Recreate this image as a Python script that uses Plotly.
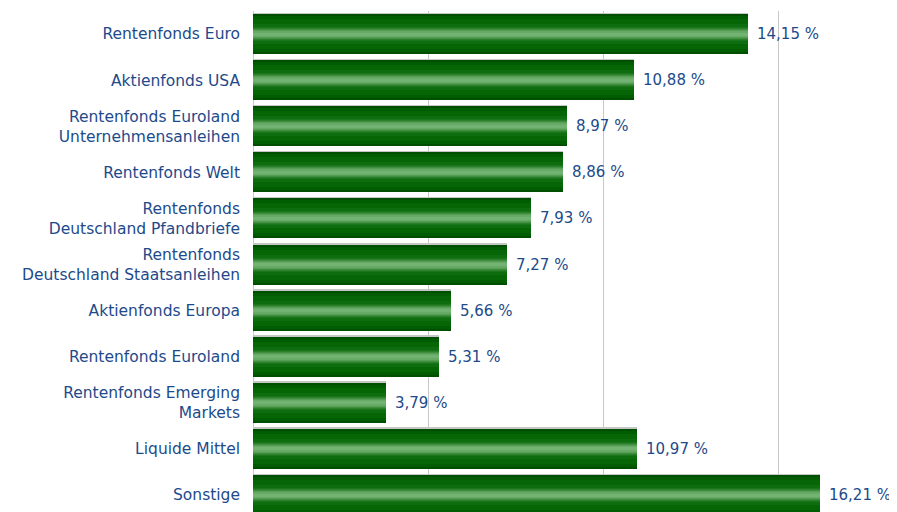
import plotly.graph_objects as go

categories = [
    "Rentenfonds Euro",
    "Aktienfonds USA",
    "Rentenfonds Euroland<br>Unternehmensanleihen",
    "Rentenfonds Welt",
    "Rentenfonds<br>Deutschland Pfandbriefe",
    "Rentenfonds<br>Deutschland Staatsanleihen",
    "Aktienfonds Europa",
    "Rentenfonds Euroland",
    "Rentenfonds Emerging<br>Markets",
    "Liquide Mittel",
    "Sonstige",
]
values = [14.15, 10.88, 8.97, 8.86, 7.93, 7.27, 5.66, 5.31, 3.79, 10.97, 16.21]
labels = [f"{v:.2f}".replace(".", ",") + " %" for v in values]

# page body has an 8px margin, so the figure is placed at (8, 8)
W, H = 889, 504
ML, MT = 245, 3
PX_PER_CAT = 46.1
PX_PER_PCT = 35.0
plot_h = H - MT
plot_w = W - ML
cat_px = 1.0 / PX_PER_CAT
bar_px = 40

TEXT_COLOR = "#1d4a8a"
FONT = "DejaVu Sans"
FSIZE = 15.5

fig = go.Figure()

# thin grey top edge
g = 1.5
fig.add_trace(go.Bar(
    y=categories, x=values, orientation="h",
    width=(bar_px + g) * cat_px, offset=-(bar_px / 2 + g) * cat_px,
    marker=dict(color="#c4c8c4", line=dict(width=0)), hoverinfo="skip", showlegend=False,
))

# cylindrical gradient layers (outer -> inner), full heights in px
layers = [
    (40, "#004e00"),
    (36, "#005c00"),
    (30, "#066606"),
    (20, "#0e6d0e"),
    (14, "#1b761b"),
    (12, "#2b812b"),
    (10, "#3f8f3f"),
    (8, "#559d55"),
    (6, "#66aa66"),
    (3, "#72b272"),
]
for px, col in layers:
    fig.add_trace(go.Bar(
        y=categories, x=values, orientation="h",
        width=px * cat_px,
        marker=dict(color=col, line=dict(width=0)),
        hoverinfo="skip", showlegend=False,
    ))

for c, v, t in zip(categories, values, labels):
    fig.add_annotation(
        x=v, y=c, text=t, showarrow=False, xanchor="left", yanchor="middle",
        xshift=7, font=dict(family=FONT, size=15, color=TEXT_COLOR),
    )

fig.update_layout(
    width=W, height=H,
    margin=dict(l=ML, r=0, t=MT, b=0, pad=0),
    paper_bgcolor="white", plot_bgcolor="white",
    barmode="overlay",
    bargap=0,
    xaxis=dict(
        range=[0, plot_w / PX_PER_PCT], dtick=5, tick0=0,
        showgrid=True, gridcolor="#c8c8c8", gridwidth=1,
        zeroline=True, zerolinecolor="#c8c8c8", zerolinewidth=1,
        showticklabels=False, showline=False, fixedrange=True,
    ),
    yaxis=dict(
        type="category",
        range=[-0.5 + plot_h / PX_PER_CAT, -0.5],
        showgrid=False, zeroline=False, showline=False,
        ticks="", ticklabelstandoff=12,
        tickfont=dict(family=FONT, size=FSIZE, color=TEXT_COLOR),
    ),
    font=dict(family=FONT, size=FSIZE, color=TEXT_COLOR),
)

fig.write_html("out.html")
